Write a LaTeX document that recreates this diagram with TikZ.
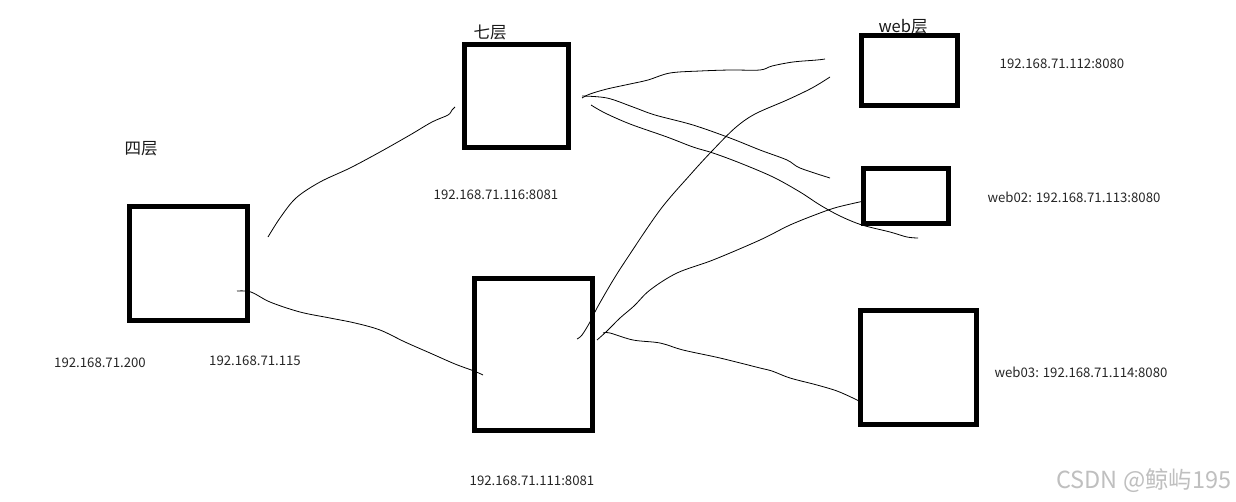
\documentclass[tikz,border=0pt]{standalone}
\usepackage{fontspec}
\setmainfont{Noto Sans CJK SC}
\begin{document}
\begin{tikzpicture}[x=1pt,y=-1pt,
  box/.style={draw=black,line width=4.6pt,fill=white,inner sep=0pt},
  wire/.style={draw=black,line width=0.8pt,smooth,tension=0.55},
  ip/.style={font=\fontsize{13.2}{15}\selectfont,text=black!85,inner sep=0pt},
  layer/.style={font=\fontsize{16.5}{18}\selectfont,text=black!90,inner sep=0pt}]
\useasboundingbox[fill=white] (0,0) rectangle (1236,501);
% labels
\node[layer] (t4) at (141,149) {四层};
\node[layer] (t7) at (490,32) {七层};
\node[layer] (tw) at (903,27) {web层};
\node[ip] (ip200) at (100,363) {192.168.71.200};
\node[ip] (ip115) at (255,361) {192.168.71.115};
\node[ip] (ip116) at (496,195) {192.168.71.116:8081};
\node[ip] (ip111) at (532,481) {192.168.71.111:8081};
\node[ip] (ip112) at (1062,64) {192.168.71.112:8080};
\node[ip] (ip113) at (1074,197) {web02: 192.168.71.113:8080};
\node[ip] (ip114) at (1081,372) {web03: 192.168.71.114:8080};
\node[font=\fontsize{23.5}{25}\selectfont,text=black!25,inner sep=0pt] (wm) at (1144,481) {CSDN @鲸屿195};
% boxes
\node[box,minimum width=118pt,minimum height=114pt] (l4) at (188.5,263.5) {};
\node[box,minimum width=104pt,minimum height=103pt] (l7) at (516.5,96) {};
\node[box,minimum width=118pt,minimum height=152pt] (mid) at (533.5,354.5) {};
\node[box,minimum width=96pt,minimum height=70pt] (web1) at (909.5,70.5) {};
\node[box,minimum width=85pt,minimum height=55pt] (web2) at (906,196) {};
\node[box,minimum width=116pt,minimum height=114pt] (web3) at (918.5,367.5) {};
% wire end points
\coordinate (a1) at (268,237);
\coordinate (a2) at (455,107);
\coordinate (b1) at (237,291);
\coordinate (b2) at (483,375);
\coordinate (c1) at (582,98);
\coordinate (c2) at (825,59);
\coordinate (d1) at (582,96);
\coordinate (d2) at (830,178);
\coordinate (e1) at (591,105);
\coordinate (e2) at (918,238);
\coordinate (f1) at (577,339);
\coordinate (f2) at (830,77);
\coordinate (g1) at (597,340);
\coordinate (g2) at (864,201);
\coordinate (h1) at (603,333);
\coordinate (h2) at (862,403);
% wires
\draw[wire] plot coordinates {(a1) (280,218) (296,198) (320,182) (350,168) (380,152) (410,135) (432,122) (448,115) (452,110) (a2)};
\draw[wire] plot coordinates {(b1) (251,292) (270,302) (300,312) (330,318) (355,323) (380,330) (405,342) (430,353) (455,364) (474,371) (b2)};
\draw[wire] plot coordinates {(c1) (590,94) (607,89) (630,84) (648,80) (670,73) (700,71) (730,70) (760,70) (772,66) (793,62) (817,60) (c2)};
\draw[wire] plot coordinates {(d1) (607,98) (633,107) (655,115) (693,125) (730,138) (760,150) (787,160) (800,168) (d2)};
\draw[wire] plot coordinates {(e1) (605,113) (630,124) (667,137) (693,147) (713,153) (740,163) (773,177) (800,192) (820,205) (840,216) (862,225) (890,232) (907,237) (e2)};
\draw[wire] plot coordinates {(f1) (582,335) (590,322) (597,308) (612,282) (626,260) (660,210) (690,175) (712,151) (735,128) (755,114) (787,100) (812,88) (f2)};
\draw[wire] plot coordinates {(g1) (607,331) (620,318) (634,306) (650,290) (677,273) (713,260) (760,240) (790,225) (820,213) (838,207) (g2)};
\draw[wire] plot coordinates {(h1) (610,333) (633,340) (660,343) (683,350) (720,358) (760,368) (772,371) (790,378) (817,385) (837,391) (855,399) (h2)};
\end{tikzpicture}
\end{document}
